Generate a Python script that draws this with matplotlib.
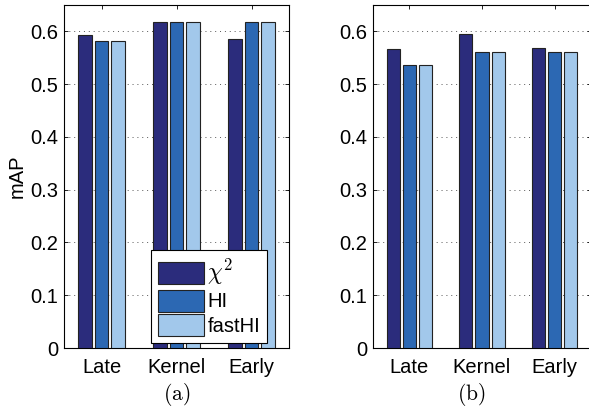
import numpy as np
import matplotlib.pyplot as plt

plt.rcParams['font.family'] = ['Liberation Sans', 'DejaVu Sans']
plt.rcParams['mathtext.fontset'] = 'cm'

categories = ['Late', 'Kernel', 'Early']
series_names = [r'$\chi^2$', 'HI', 'fastHI']
colors = ['#2b2c7c', '#2c68b3', '#a2c8eb']

# (a)
vals_a = {
    'chi2': [0.594, 0.618, 0.586],
    'HI': [0.581, 0.617, 0.617],
    'fastHI': [0.581, 0.617, 0.617],
}
# (b)
vals_b = {
    'chi2': [0.567, 0.595, 0.568],
    'HI': [0.537, 0.560, 0.560],
    'fastHI': [0.537, 0.560, 0.560],
}

fig = plt.figure(figsize=(5.89, 4.08), dpi=100)
ax_a = fig.add_axes([64 / 589, 1 - 348 / 408, 225 / 589, 343 / 408])
ax_b = fig.add_axes([373 / 589, 1 - 348 / 408, 218 / 589, 343 / 408])

x = np.arange(1, len(categories) + 1)
offsets = [-0.222, 0.0, 0.222]
width = 0.18


def draw(ax, vals):
    bars = []
    for k, (key, off) in enumerate(zip(['chi2', 'HI', 'fastHI'], offsets)):
        b = ax.bar(x + off, vals[key], width, color=colors[k], edgecolor='#222222',
                   linewidth=0.8, zorder=3)
        bars.append(b)
    ax.set_xlim(0.5, 3.5)
    ax.set_ylim(0, 0.65)
    ax.set_yticks(np.arange(0, 0.61, 0.1))
    ax.set_yticklabels(['0', '0.1', '0.2', '0.3', '0.4', '0.5', '0.6'])
    ax.set_xticks(x)
    ax.set_xticklabels(categories)
    ax.tick_params(direction='in', top=True, right=True, length=3, labelsize=14.5,
                   width=0.6)
    ax.tick_params(axis='x', pad=7)
    ax.tick_params(axis='y', pad=4)
    ax.yaxis.grid(True, linestyle=(0, (1, 4)), color='#555555', linewidth=0.7, zorder=0)
    ax.set_axisbelow(True)
    for s in ax.spines.values():
        s.set_linewidth(0.8)
    return bars


bars = draw(ax_a, vals_a)
draw(ax_b, vals_b)
ax_a.set_ylabel('mAP', fontsize=14.5, labelpad=3)

leg = fig.legend(bars, series_names, loc='upper left',
                 bbox_to_anchor=(151 / 589, 1 - 250 / 408), bbox_transform=fig.transFigure,
                 borderaxespad=0, fontsize=14.5, handlelength=2.3, handleheight=1.32,
                 labelspacing=0.12, handletextpad=0.15, borderpad=0.35,
                 fancybox=False, framealpha=1, edgecolor='black')
leg.get_frame().set_linewidth(0.8)
leg.get_texts()[0].set_fontsize(17)

fig.text(177 / 589, 1 - 394 / 408, r'$\mathrm{(a)}$', ha='center', va='center', fontsize=15.5)
fig.text(471 / 589, 1 - 394 / 408, r'$\mathrm{(b)}$', ha='center', va='center', fontsize=15.5)

fig.savefig('out.png', dpi=100)
